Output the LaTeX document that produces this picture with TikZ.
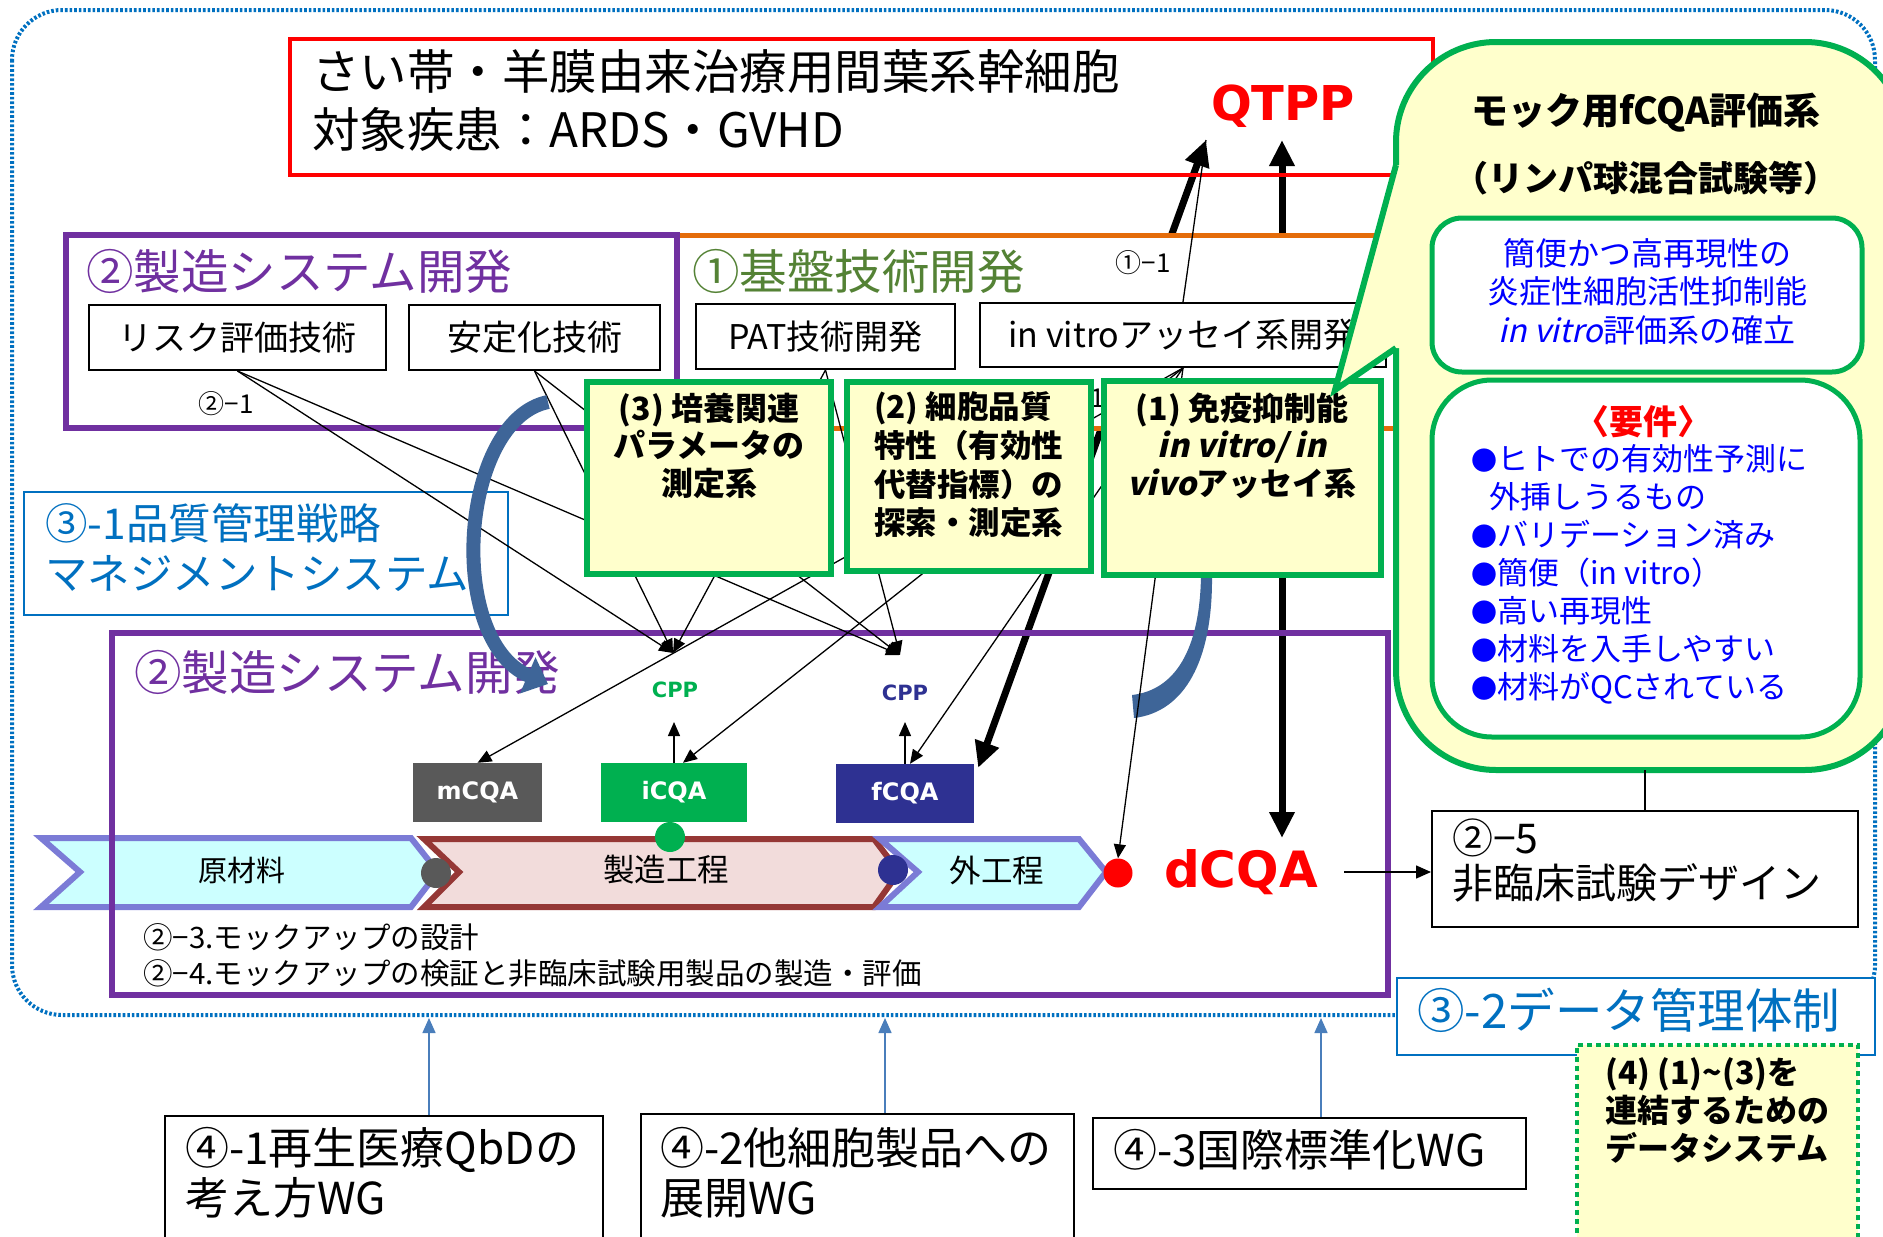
\documentclass[tikz,border=0pt]{standalone}
\usepackage{fontspec}
\setmainfont{Noto Sans CJK JP}
\newfontfamily\jpsl{Noto Sans CJK JP}[FakeSlant=0.22]
\newfontfamily\jpbsl{Noto Sans CJK JP Bold}[FakeSlant=0.22]
\newfontfamily\dv{DejaVu Sans}
\newcommand{\slt}[1]{{\jpsl #1}}
\newcommand{\bslt}[1]{{\jpbsl #1}}
\usetikzlibrary{arrows.meta,calc}
\pgfdeclarelayer{bg}
\pgfsetlayers{bg,main}
\newcommand{\fz}[2]{\fontsize{#1pt}{#2pt}\selectfont}
\definecolor{cpurple}{HTML}{7030A0}
\definecolor{corange}{HTML}{E46C0A}
\definecolor{cgtxt}{HTML}{548235}
\definecolor{cgreen}{HTML}{00B050}
\definecolor{cyel}{HTML}{FFFFCC}
\definecolor{cblue}{HTML}{0070C0}
\definecolor{cnavy}{HTML}{2E3192}
\definecolor{cgray}{HTML}{595959}
\definecolor{ccyan}{HTML}{CCFFFF}
\definecolor{cslate}{HTML}{7B7BD6}
\definecolor{cdred}{HTML}{953735}
\definecolor{cpink}{HTML}{F2DCDB}
\definecolor{csteel}{HTML}{3E6598}
\definecolor{cwg}{HTML}{4A7EBB}
\definecolor{cbt}{HTML}{0000FF}
\begin{document}
\begin{tikzpicture}[x=1pt,y=-1pt,
  box/.style={draw=black,line width=2,fill=white,inner sep=0},
  gbox/.style={draw=cgreen,line width=6,fill=cyel,inner sep=0},
  lbl/.style={inner sep=0},
  tarrow/.style={line width=1.3,-{Triangle[length=14pt,width=12pt]}},
  tline/.style={line width=1.3},
  bigarrow/.style={line width=7,{Triangle[length=26pt,width=24pt]}-{Triangle[length=26pt,width=24pt]}},
  wgarrow/.style={cwg,line width=1.5,-{Triangle[length=15pt,width=13pt]}},
  cqa/.style={inner sep=0,minimum height=59,text=white,font={\dv\bfseries\fz{24}{26}}},
  dot/.style={circle,inner sep=0,minimum size=30},
]
\useasboundingbox (0,0) rectangle (1883,1237);

\begin{pgfonlayer}{bg}
\draw[cblue,line width=4,dash pattern=on 2.6pt off 2pt,rounded corners=50] (12,10) rectangle (1875,1015);
\end{pgfonlayer}

% title
\node[draw=red,line width=4,inner sep=0,minimum width=1143,minimum height=136] (title) at (861.5,107) {};
\node[lbl,anchor=west,align=left,font={\fz{47.5}{58}}] (titlet) at (312,100) {さい帯・羊膜由来治療用間葉系幹細胞\\対象疾患：ARDS・GVHD};
\node[lbl,text=red,font={\dv\bfseries\fz{48}{50}}] (qtpp) at (1283,106) {QTPP};
\coordinate (qa1) at (1206,140);
\coordinate (qa2) at (1282,140);
\coordinate (dtop) at (1282,838);

% upper frames
\node[draw=corange,line width=5,fill=white,inner sep=0,minimum width=1334,minimum height=193] (kiban) at (733,331.5) {};
\node[draw=cpurple,line width=6,fill=white,inner sep=0,minimum width=611,minimum height=193] (seizo1) at (371.5,331.5) {};
\node[lbl,anchor=west,text=cpurple,font={\fz{47.5}{50}}] (seizo1t) at (86,271) {②製造システム開発};
\node[lbl,anchor=west,text=cgtxt,font={\fz{47.5}{50}}] (kibant) at (692,271) {①基盤技術開発};
\node[lbl,font={\fz{26}{28}}] (l11) at (1143,263) {①−1};
\node[lbl,font={\fz{26}{28}}] (l21) at (226,404) {②−1};

\node[box,minimum width=297,minimum height=65,font={\fz{34}{36}}] (risk) at (237.5,337.5) {リスク評価技術};
\node[box,minimum width=251,minimum height=65,font={\fz{35}{36}}] (stab) at (534.5,337.5) {安定化技術};
\node[box,minimum width=259,minimum height=65,font={\fz{34}{36}}] (pat) at (825.5,336.5) {PAT技術開発};
\node[box,minimum width=406,minimum height=64,font={\fz{34}{36}}] (invitro) at (1183,335) {in vitroアッセイ系開発};

% 3-1
\node[draw=cblue,line width=2,fill=white,inner sep=0,minimum width=484,minimum height=123] (q31) at (266,553.5) {};
\node[lbl,anchor=west,align=left,text=cblue,font={\fz{42.5}{50}}] (q31t) at (45,548) {③-1品質管理戦略\\マネジメントシステム};

% chevrons
\draw[draw=cslate,fill=ccyan,line width=6] (41,838) -- (411,838) -- (438,872) -- (411,907) -- (41,907) -- (80,872) -- cycle;
\node[lbl,font={\fz{29}{30}}] (genzai) at (242,870) {原材料};
\draw[draw=cdred,fill=cpink,line width=6] (424,839) -- (874,839) -- (899,872) -- (874,907) -- (424,907) -- (459,872) -- cycle;
\node[lbl,font={\fz{31.5}{33}}] (seizoko) at (666,870) {製造工程};
\draw[draw=cslate,fill=ccyan,line width=6] (880,839) -- (1079,839) -- (1106,872) -- (1079,907) -- (880,907) -- (918,872) -- cycle;
\node[lbl,font={\fz{31.5}{33}}] (gaiko) at (997,870) {外工程};
\node[dot,fill=cgray] (dotgy) at (436,873) {};
\node[dot,fill=cnavy] (dotnv) at (893,870) {};
\node[dot,fill=cgreen] (dotgr) at (670,837) {};
\node[dot,fill=red,minimum size=29] (reddot) at (1118,873) {};

% lower frame
\node[draw=cpurple,line width=6,inner sep=0,minimum width=1276,minimum height=362] (seizo2) at (750,814) {};
\node[lbl,anchor=west,text=cpurple,font={\fz{47.5}{50}}] (seizo2t) at (134,672) {②製造システム開発};
\node[lbl,anchor=west,font={\fz{29.5}{31}}] (mock3) at (143,937) {②−3.モックアップの設計};
\node[lbl,anchor=west,font={\fz{29.5}{31}}] (mock4) at (143,973) {②−4.モックアップの検証と非臨床試験用製品の製造・評価};

% CQA
\node[cqa,fill=cgray,minimum width=129] (mcqa) at (477.5,792.5) {mCQA};
\node[cqa,fill=cgreen,minimum width=146] (icqa) at (674,792.5) {iCQA};
\node[cqa,fill=cnavy,minimum width=138] (fcqa) at (905,793.5) {fCQA};
\node[lbl,text=cgreen,font={\dv\bfseries\fz{21}{22}}] (cppg) at (675,690) {CPP};
\node[lbl,text=cnavy,font={\dv\bfseries\fz{21}{22}}] (cppn) at (905,693) {CPP};
\coordinate (cppGtip) at (673,653);
\coordinate (cppNtip) at (900,655);
\coordinate (cppGbot) at (674,722);
\coordinate (cppNbot) at (905,722);

% big arrows (background)
\begin{pgfonlayer}{bg}
\draw[bigarrow] (qa1) -- ($(fcqa.north east)+(4,4)$);
\draw[bigarrow] (qa2) -- (dtop);
\end{pgfonlayer}

% dCQA and 2-5
\node[lbl,text=red,font={\dv\bfseries\fz{50}{52}}] (dcqa) at (1241,872) {dCQA};
\node[box,minimum width=426,minimum height=116] (r25) at (1645,869) {};
\node[lbl,anchor=west,align=left,font={\fz{41}{45}}] (r25t) at (1452,860.5) {②−5\\非臨床試験デザイン};
\draw[line width=1.5,-{Triangle[length=15pt,width=13pt]},shorten <=26pt] (dcqa.east) -- (dcqa.east -| r25.west);

% visible tail of a label hidden behind the boxes
\node[lbl,font={\fz{26}{28}}] (l11b) at (1098,398) {1};

% right curved band
\fill[csteel] (1201,575) .. controls (1200,650) and (1175,690) .. (1132,695) -- (1134,718) .. controls (1185,712) and (1213,660) .. (1212,575) -- cycle;

% thin connectors
\draw[tarrow] (risk.south) -- (cppGtip);
\draw[tarrow] (risk.south) -- (cppNtip);
\draw[tarrow] (stab.south) -- (cppGtip);
\draw[tarrow] (stab.south) -- (cppNtip);
\draw[tarrow] (pat.south) -- (cppGtip);
\draw[tarrow] (pat.south) -- (cppNtip);
\draw[tarrow] (invitro.south) -- (mcqa.north);
\draw[tarrow] (invitro.south) -- ($(icqa.north)+(9,0)$);
\draw[tarrow] (invitro.south) -- ($(fcqa.north)+(5,0)$);
\draw[tarrow] (invitro.south) -- (reddot.north);
\draw[tarrow] (icqa.north) -- (cppGbot);
\draw[tarrow] (fcqa.north) -- (cppNbot);

% green boxes
\node[gbox,minimum width=244,minimum height=192] (b3) at (709,478) {};
\node[gbox,minimum width=244,minimum height=189] (b2) at (969,476.5) {};
\node[gbox,minimum width=277,minimum height=194] (b1) at (1242.5,478) {};
\node[lbl,align=center,font={\bfseries\fz{32}{37.5}}] (b3t) at (709,445.5) {(3) 培養関連\\パラメータの\\測定系};
\node[lbl,anchor=west,align=left,font={\bfseries\fz{31.5}{38.7}}] (b2t) at (874,465) {(2) 細胞品質\\特性（有効性\\代替指標）の\\探索・測定系};
\node[lbl,align=center,font={\bfseries\fz{32}{37.5}}] (b1t) at (1242,445.5) {(1) 免疫抑制能\\\bslt{in vitro/ in}\\\bslt{vivo}アッセイ系};

% left curved arrow
\draw[csteel,line width=14,-{Triangle[length=22pt,width=38pt]}] (548,402) .. controls (460,420) and (445,640) .. (548,684);

% callout
\draw[cgreen,fill=cyel,line width=6,rounded corners=100] (1396,42) rectangle (1905,770);
\fill[cyel] (1396,165) -- (1335,390) -- (1396,348) -- (1402,348) -- (1402,165) -- cycle;
\draw[cgreen,line width=6,line join=miter] (1396,165) -- (1335,390) -- (1396,348);
\node[lbl,font={\bfseries\fz{37}{39}}] (cot1) at (1646,113) {モック用fCQA評価系};
\node[lbl,font={\bfseries\fz{35}{37}}] (cot2) at (1646,178) {（リンパ球混合試験等）};
\node[draw=cgreen,line width=5,fill=white,rounded corners=30,inner sep=0,minimum width=430,minimum height=154] (ib1) at (1647,295) {};
\node[lbl,align=center,text=cbt,font={\fz{32}{38.5}}] (ib1t) at (1647,291.5) {簡便かつ高再現性の\\炎症性細胞活性抑制能\\\slt{in vitro}評価系の確立};
\node[draw=cgreen,line width=5,fill=white,rounded corners=60,inner sep=0,minimum width=428,minimum height=357] (ib2) at (1646,558.5) {};
\node[lbl,text=red,font={\bfseries\fz{34}{36}}] (yoken) at (1643,422) {〈要件〉};
\node[lbl,anchor=west,align=left,text=cbt,font={\fz{31}{38}}] (ib2t) at (1471,574) {{\fz{26}{38}●}ヒトでの有効性予測に\\\hspace*{18pt}外挿しうるもの\\{\fz{26}{38}●}バリデーション済み\\{\fz{26}{38}●}簡便（in vitro）\\{\fz{26}{38}●}高い再現性\\{\fz{26}{38}●}材料を入手しやすい\\{\fz{26}{38}●}材料がQCされている};
\coordinate (cob) at (1645,770);
\draw[tline] (cob) -- (r25.north);
\draw[tline] (invitro.north) -- (qa1);

% data management
\node[draw=cblue,line width=2,fill=white,inner sep=0,minimum width=478,minimum height=77] (q32) at (1636,1016.5) {};
\node[lbl,anchor=west,text=cblue,font={\fz{47.5}{50}}] (q32t) at (1417,1010) {③-2データ管理体制};
\node[draw=cgreen,line width=4.5,dash pattern=on 5pt off 4pt,fill=cyel,inner sep=0,minimum width=281,minimum height=200] (d4) at (1717.5,1145) {};
\node[lbl,anchor=west,align=left,font={\bfseries\fz{32}{38}}] (d4t) at (1605,1110) {(4) (1)\textasciitilde(3)を\\連結するための\\データシステム};

% WG
\node[box,minimum width=438,minimum height=134] (wg1) at (384,1183) {};
\node[lbl,anchor=west,align=left,font={\fz{44}{50}}] (wg1t) at (185,1173) {④-1再生医療QbDの\\考え方WG};
\node[box,minimum width=433,minimum height=136] (wg2) at (857.5,1182) {};
\node[lbl,anchor=west,align=left,font={\fz{44}{50}}] (wg2t) at (660,1173) {④-2他細胞製品への\\展開WG};
\node[box,minimum width=433,minimum height=71] (wg3) at (1309.5,1153.5) {};
\node[lbl,anchor=west,font={\fz{44}{50}}] (wg3t) at (1113,1150) {④-3国際標準化WG};
\coordinate (w1a) at (429,1018);
\coordinate (w2a) at (885,1018);
\coordinate (w3a) at (1321,1018);
\draw[wgarrow] (w1a |- wg1.north) -- (w1a);
\draw[wgarrow] (w2a |- wg2.north) -- (w2a);
\draw[wgarrow] (w3a |- wg3.north) -- (w3a);
\end{tikzpicture}
\end{document}
